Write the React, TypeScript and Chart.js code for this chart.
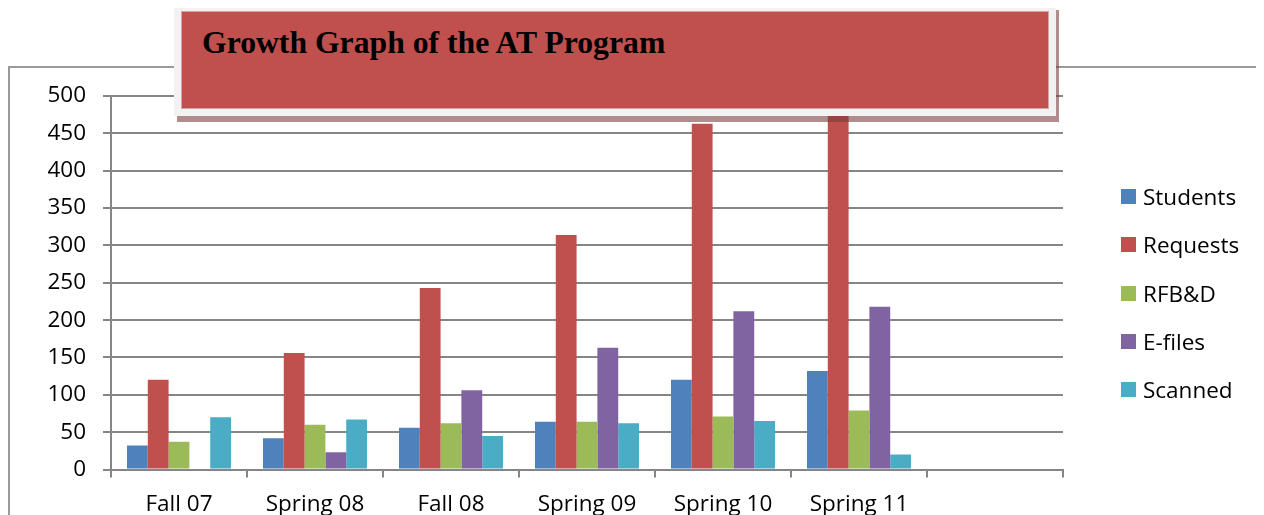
import React, { useEffect, useRef } from "react";
import { Chart, registerables } from "chart.js";

Chart.register(...registerables);

const categories = ["Fall 07", "Spring 08", "Fall 08", "Spring 09", "Spring 10", "Spring 11", ""];
const seriesNames = ["Students", "Requests", "RFB&D", "E-files", "Scanned"];
const students = [32, 42, 56, 64, 120, 132, null];
const requests = [120, 156, 243, 314, 463, 480, null];
const rfbd = [37, 60, 62, 64, 71, 79, null];
const efiles = [0, 23, 106, 163, 212, 218, null];
const scanned = [70, 67, 45, 62, 65, 20, null];
const colors = ["#4f81bd", "#c0504d", "#9bbb59", "#8064a2", "#4bacc6"];
const yTicks = [0, 50, 100, 150, 200, 250, 300, 350, 400, 450, 500];
const titleText = "Growth Graph of the AT Program";

const FONT = "'Open Sans', 'Noto Sans', sans-serif";

export default function App() {
  const ref = useRef<HTMLCanvasElement | null>(null);

  useEffect(() => {
    if (!ref.current) return;
    const values = [students, requests, rfbd, efiles, scanned];
    const chart = new Chart(ref.current, {
      type: "bar",
      data: {
        labels: categories,
        datasets: seriesNames.map((name, i) => ({
          label: name,
          data: values[i],
          backgroundColor: colors[i],
          borderWidth: 0,
          categoryPercentage: 0.765,
          barPercentage: 1,
        })),
      },
      options: {
        responsive: false,
        animation: false,
        maintainAspectRatio: false,
        layout: { padding: { top: 88, right: 201, left: 0, bottom: 0 } },
        plugins: {
          legend: { display: false },
          tooltip: { enabled: false },
          title: { display: false },
        },
        scales: {
          x: {
            grid: {
              offset: true,
              drawOnChartArea: false,
              drawTicks: true,
              tickLength: 8,
              color: "#868686",
              lineWidth: 2,
            },
            border: { display: true, color: "#868686", width: 2 },
            ticks: {
              color: "#000",
              font: { family: FONT, size: 22.5 },
              padding: 14,
              maxRotation: 0,
              autoSkip: false,
            },
            afterFit: (scale: any) => {
              scale.height = 45.5;
            },
          },
          y: {
            min: 0,
            max: 500,
            afterBuildTicks: (scale: any) => {
              scale.ticks = yTicks.map((v) => ({ value: v }));
            },
            grid: {
              color: "#868686",
              lineWidth: 2,
              tickLength: 8,
              drawTicks: true,
            },
            border: { display: true, color: "#868686", width: 2 },
            ticks: {
              color: "#000",
              font: { family: FONT, size: 22.5 },
              padding: 17,
            },
            afterFit: (scale: any) => {
              scale.width = 103;
            },
          },
        },
      },
    });
    return () => chart.destroy();
  }, []);

  return (
    <div style={{ position: "relative", width: 1256, height: 507 }}>
      <div
        style={{
          position: "absolute",
          left: 0,
          top: 58,
          right: -8,
          bottom: -8,
          borderLeft: "2px solid #9a9a9a",
          borderTop: "2px solid #9a9a9a",
          boxSizing: "border-box",
        }}
      />
      <canvas
        ref={ref}
        width={1256}
        height={507}
        style={{ position: "absolute", left: 0, top: 0, width: 1256, height: 507 }}
      />
      {/* title shadow */}
      <div
        style={{
          position: "absolute",
          left: 169,
          top: 1.5,
          width: 882,
          height: 112.5,
          background: "rgba(120,59,59,0.59)",
        }}
      />
      {/* title outer frame */}
      <div
        style={{
          position: "absolute",
          left: 166,
          top: -3.3,
          width: 882,
          height: 111.3,
          background: "#f2f2f2",
        }}
      />
      {/* title inner */}
      <div
        style={{
          position: "absolute",
          left: 173.7,
          top: 4.3,
          width: 866.3,
          height: 95.7,
          background: "#c0504d",
          boxShadow: "0 0 0 1px #dba4a3",
        }}
      />
      <div
        style={{
          position: "absolute",
          left: 194,
          top: 18.5,
          fontFamily: "'Liberation Serif', 'Times New Roman', serif",
          fontWeight: "bold",
          fontSize: 31.7,
          lineHeight: "31.7px",
          color: "#000",
          whiteSpace: "nowrap",
        }}
      >
        {titleText}
      </div>
      {/* legend */}
      {seriesNames.map((name, i) => (
        <div
          key={name}
          style={{
            position: "absolute",
            left: 1113,
            top: 188.7 + i * 48.2 - 16,
            height: 32,
            display: "flex",
            alignItems: "center",
            fontFamily: FONT,
            fontSize: 22.5,
            color: "#000",
            whiteSpace: "nowrap",
          }}
        >
          <span
            style={{
              display: "inline-block",
              width: 15,
              height: 15,
              background: colors[i],
              marginRight: 7,
            }}
          />
          <span>{name}</span>
        </div>
      ))}
    </div>
  );
}
